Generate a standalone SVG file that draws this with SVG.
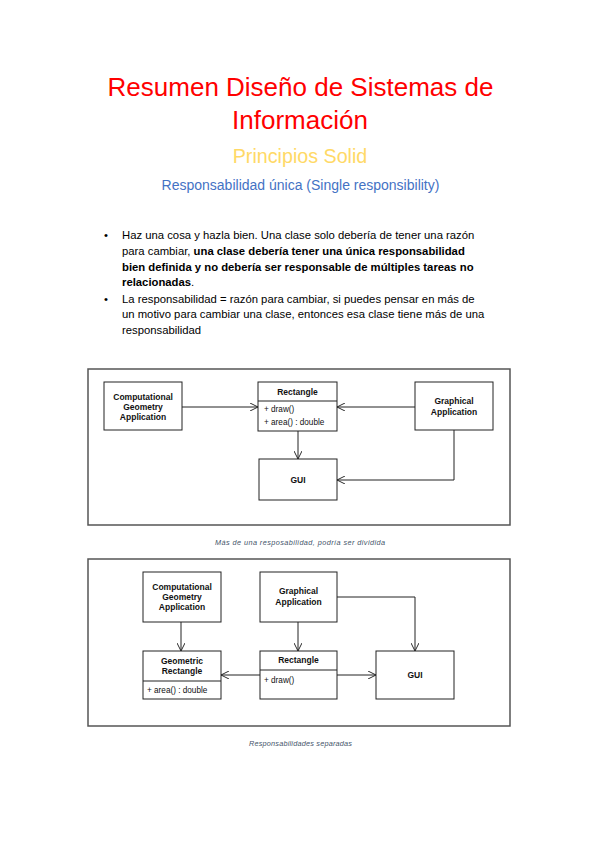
<svg xmlns="http://www.w3.org/2000/svg" width="599" height="848" viewBox="0 0 599 848">
<style>
text{font-family:"Liberation Sans",Arial,sans-serif;}
.title{font-size:26px;fill:#FF0000;text-anchor:middle;}
.sub{font-size:19.7px;fill:#FFD966;text-anchor:middle;}
.sub2{font-size:14px;fill:#4472C4;text-anchor:middle;}
.body{font-size:11.3px;fill:#000;}
.b{font-weight:bold;}
.frame{fill:#fff;stroke:#555;stroke-width:1.5;}
.box{fill:#fff;stroke:#222;stroke-width:1;}
.n{font-size:8.5px;font-weight:bold;fill:#111;text-anchor:middle;}
.m{font-size:8.2px;fill:#111;}
.cap{font-size:7.3px;font-style:italic;fill:#44546A;text-anchor:middle;}
.edge{fill:none;stroke:#222;stroke-width:1;}
</style>
<defs>
<marker id="open" viewBox="0 0 10 10" refX="10" refY="5" markerWidth="8" markerHeight="8" markerUnits="userSpaceOnUse" orient="auto">
<path d="M0,0 L10,5 L0,10" fill="none" stroke="#222" stroke-width="1.2"/>
</marker>
</defs>
<rect width="599" height="848" fill="#fff"/>

<g id="header">
<text class="title" x="300.5" y="96">Resumen Diseño de Sistemas de</text>
<text class="title" x="300" y="129">Información</text>
<text class="sub" x="300" y="163">Principios Solid</text>
<text class="sub2" x="300.5" y="190">Responsabilidad única (Single responsibility)</text>
</g>

<g id="bullets" class="body">
<text x="104" y="239">•</text>
<text x="122" y="239">Haz una cosa y hazla bien. Una clase solo debería de tener una razón</text>
<text x="122" y="255">para cambiar, <tspan class="b">una clase debería tener una única responsabilidad</tspan></text>
<text x="122" y="271" class="b">bien definida y no debería ser responsable de múltiples tareas no</text>
<text x="122" y="286"><tspan class="b">relacionadas</tspan>.</text>
<text x="104" y="303">•</text>
<text x="122" y="303">La responsabilidad = razón para cambiar, si puedes pensar en más de</text>
<text x="122" y="318">un motivo para cambiar una clase, entonces esa clase tiene más de una</text>
<text x="122" y="334">responsabilidad</text>
</g>

<!-- Diagram 1 -->
<rect id="frame1" class="frame" x="88" y="369" width="422" height="156"/>
<g id="d1-comp">
<rect class="box" x="104" y="382" width="78" height="48"/>
<text class="n" x="143" y="400">Computational</text>
<text class="n" x="143" y="410">Geometry</text>
<text class="n" x="143" y="419.5">Application</text>
</g>
<g id="d1-rect">
<rect class="box" x="258" y="382" width="79" height="49"/>
<line class="box" x1="258" y1="401" x2="337" y2="401"/>
<text class="n" x="297.5" y="395">Rectangle</text>
<text class="m" x="264" y="412">+ draw()</text>
<text class="m" x="264" y="425">+ area() : double</text>
</g>
<g id="d1-graph">
<rect class="box" x="415" y="382" width="78" height="48"/>
<text class="n" x="454" y="404">Graphical</text>
<text class="n" x="454" y="415">Application</text>
</g>
<g id="d1-gui">
<rect class="box" x="259" y="459" width="78" height="41"/>
<text class="n" x="298" y="483">GUI</text>
</g>
<g id="d1-edges">
<path class="edge" d="M182,407 H258" marker-end="url(#open)"/>
<path class="edge" d="M415,407 H337" marker-end="url(#open)"/>
<path class="edge" d="M298,431 V459" marker-end="url(#open)"/>
<path class="edge" d="M454,430 V480 H337" marker-end="url(#open)"/>
</g>
<text class="cap" x="300" y="545" textLength="170" lengthAdjust="spacing">Más de una resposabilidad, podría ser dividida</text>

<!-- Diagram 2 -->
<rect id="frame2" class="frame" x="88" y="559" width="422" height="167"/>
<g id="d2-comp">
<rect class="box" x="143" y="572" width="78" height="50"/>
<text class="n" x="182" y="590">Computational</text>
<text class="n" x="182" y="600">Geometry</text>
<text class="n" x="182" y="610">Application</text>
</g>
<g id="d2-graph">
<rect class="box" x="260" y="572" width="77" height="50"/>
<text class="n" x="298.5" y="594">Graphical</text>
<text class="n" x="298.5" y="605">Application</text>
</g>
<g id="d2-geo">
<rect class="box" x="143" y="651" width="78" height="48"/>
<line class="box" x1="143" y1="681" x2="221" y2="681"/>
<text class="n" x="182" y="664">Geometric</text>
<text class="n" x="182" y="673.5">Rectangle</text>
<text class="m" x="147" y="693">+ area() : double</text>
</g>
<g id="d2-rect">
<rect class="box" x="260" y="651" width="77" height="48"/>
<line class="box" x1="260" y1="670" x2="337" y2="670"/>
<text class="n" x="298.5" y="663">Rectangle</text>
<text class="m" x="264" y="683">+ draw()</text>
</g>
<g id="d2-gui">
<rect class="box" x="376" y="651" width="78" height="48"/>
<text class="n" x="415" y="678">GUI</text>
</g>
<g id="d2-edges">
<path class="edge" d="M181,622 V651" marker-end="url(#open)"/>
<path class="edge" d="M298,622 V651" marker-end="url(#open)"/>
<path class="edge" d="M337,597 H415 V651" marker-end="url(#open)"/>
<path class="edge" d="M260,675 H221" marker-end="url(#open)"/>
<path class="edge" d="M337,675 H376" marker-end="url(#open)"/>
</g>
<text class="cap" x="300.5" y="746" textLength="103" lengthAdjust="spacing">Responsabilidades separadas</text>
</svg>
